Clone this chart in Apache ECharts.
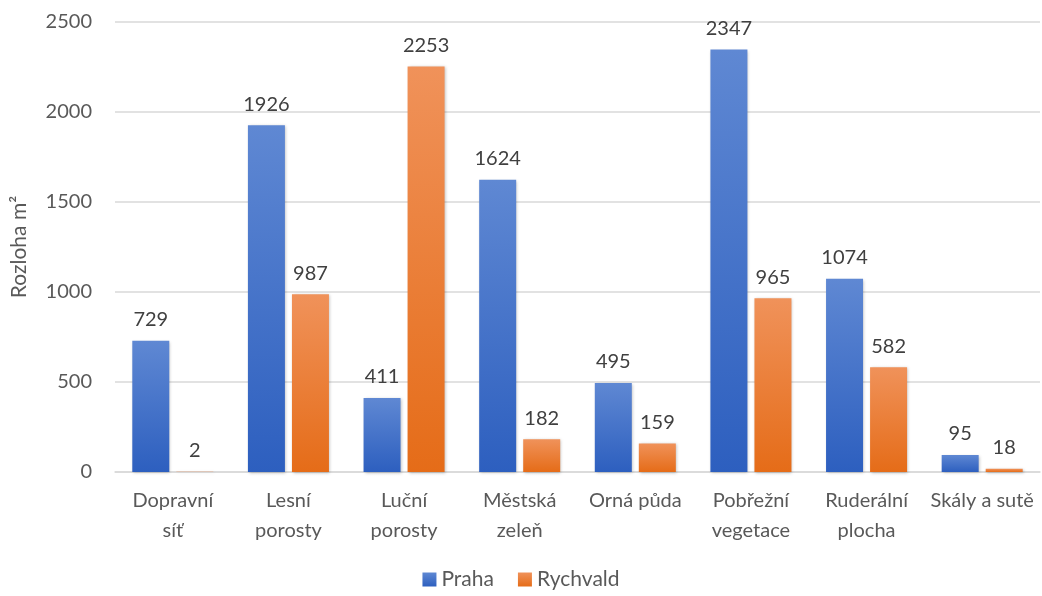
<!DOCTYPE html>
<html>
<head>
<meta charset="utf-8">
<script src="https://cdn.jsdelivr.net/npm/echarts@6/dist/echarts.min.js"></script>
<style>
  html, body { margin: 0; padding: 0; background: #fff; }
  #chart { width: 1042px; height: 596px; }
</style>
</head>
<body>
<div id="chart"></div>
<script>
// Land-cover area by category for two sites
const categories = ['Dopravní\nsíť', 'Lesní\nporosty', 'Luční\nporosty', 'Městská\nzeleň', 'Orná půda', 'Pobřežní\nvegetace', 'Ruderální\nplocha', 'Skály a sutě'];
const praha = [729, 1926, 411, 1624, 495, 2347, 1074, 95];
const rychvald = [2, 987, 2253, 182, 159, 965, 582, 18];
const yTicks = { min: 0, max: 2500, interval: 500 };

const FONT = 'Lato, "Open Sans", sans-serif';
const FS = 20;

function grad(top, bottom) {
  return new echarts.graphic.LinearGradient(0, 0, 0, 1, [
    { offset: 0, color: top },
    { offset: 1, color: bottom }
  ]);
}

const barShadow = {
  shadowBlur: 3,
  shadowColor: 'rgba(0,0,0,0.25)',
  shadowOffsetX: 1,
  shadowOffsetY: 1
};

const labelStyle = {
  show: true,
  position: 'top',
  distance: 11,
  color: '#404040',
  fontSize: FS,
  fontFamily: FONT
};

const chart = echarts.init(document.getElementById('chart'), null, { renderer: 'canvas' });
chart.setOption({
  animation: false,
  backgroundColor: '#ffffff',
  grid: { left: 115, right: 2, top: 22, bottom: 124, containLabel: false },
  legend: {
    bottom: 1,
    left: 'center',
    itemWidth: 14,
    itemHeight: 14,
    itemGap: 24,
    icon: 'rect',
    textStyle: { color: '#595959', fontSize: 21, fontFamily: FONT },
    data: ['Praha', 'Rychvald']
  },
  xAxis: {
    type: 'category',
    data: categories,
    axisLine: { lineStyle: { color: '#d9d9d9', width: 1.5 } },
    axisTick: { show: false },
    axisLabel: {
      color: '#595959',
      fontSize: FS,
      fontFamily: FONT,
      lineHeight: 30,
      margin: 14,
      interval: 0
    }
  },
  yAxis: {
    type: 'value',
    min: yTicks.min,
    max: yTicks.max,
    interval: yTicks.interval,
    name: 'Rozloha m²',
    nameLocation: 'middle',
    nameGap: 85,
    nameRotate: 90,
    nameTextStyle: { color: '#595959', fontSize: 21, fontFamily: FONT },
    axisLine: { show: false },
    axisTick: { show: false },
    axisLabel: {
      color: '#595959',
      fontSize: FS,
      fontFamily: FONT,
      margin: 23,
      formatter: v => String(v)
    },
    splitLine: { lineStyle: { color: '#d9d9d9', width: 1.5 } }
  },
  series: [
    {
      name: 'Praha',
      type: 'bar',
      data: praha,
      barWidth: 37,
      barGap: '19%',
      itemStyle: Object.assign({ color: grad('#5f88d3', '#2d5fbf') }, barShadow),
      label: labelStyle
    },
    {
      name: 'Rychvald',
      type: 'bar',
      data: rychvald,
      barWidth: 37,
      itemStyle: Object.assign({ color: grad('#f0925a', '#e56c18') }, barShadow),
      label: labelStyle
    }
  ]
});
</script>
</body>
</html>
